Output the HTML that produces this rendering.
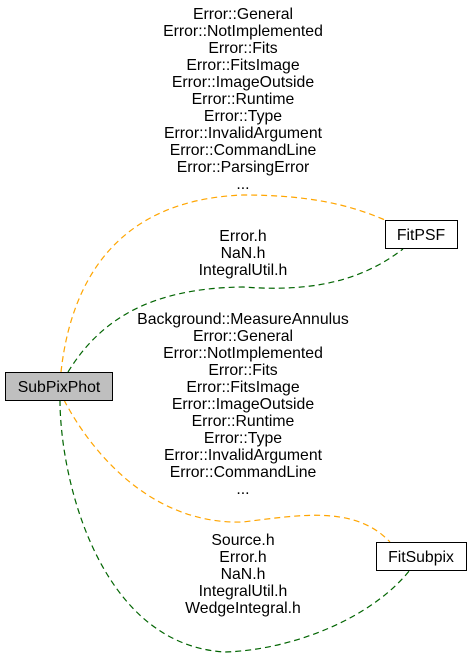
<!DOCTYPE html>
<html><head><style>
body{margin:0;background:#fff;width:472px;height:659px;overflow:hidden}
svg text{font-family:"Liberation Sans",Arial,sans-serif;font-size:15.8px;fill:#000;text-anchor:middle}
</style></head><body>
<svg width="472" height="659" viewBox="0 0 472 659">
<g fill="none" stroke-width="1.2" stroke-dasharray="6,4">
<path d="M61,372 C70,290 110,200 243,195 C310,195 350,205 385,220" stroke="orange"/>
<path d="M68,372 C100,320 150,288 243,287 C310,292 360,282 403,249" stroke="darkgreen"/>
<path d="M64,400 C90,450 150,525 243,522 C300,515 355,505 390,542" stroke="orange"/>
<path d="M60,400 C60,480 100,645 225,652 C290,650 370,620 410,570" stroke="darkgreen"/>
</g>
<rect x="5.5" y="372.5" width="107" height="28" fill="#bfbfbf" stroke="#000"/>
<text x="59" y="392">SubPixPhot</text>
<rect x="385.5" y="220.5" width="72" height="28" fill="#fff" stroke="#000"/>
<text x="421" y="240">FitPSF</text>
<rect x="376.5" y="542.5" width="90" height="28" fill="#fff" stroke="#000"/>
<text x="421" y="562">FitSubpix</text>
<g>
<text x="243" y="19">Error::General</text>
<text x="243" y="36">Error::NotImplemented</text>
<text x="243" y="53">Error::Fits</text>
<text x="243" y="70">Error::FitsImage</text>
<text x="243" y="87">Error::ImageOutside</text>
<text x="243" y="104">Error::Runtime</text>
<text x="243" y="121">Error::Type</text>
<text x="243" y="138">Error::InvalidArgument</text>
<text x="243" y="155">Error::CommandLine</text>
<text x="243" y="172">Error::ParsingError</text>
<text x="243" y="189">...</text>
<text x="243" y="241">Error.h</text>
<text x="243" y="258">NaN.h</text>
<text x="243" y="275">IntegralUtil.h</text>
<text x="243" y="324">Background::MeasureAnnulus</text>
<text x="243" y="341">Error::General</text>
<text x="243" y="358">Error::NotImplemented</text>
<text x="243" y="375">Error::Fits</text>
<text x="243" y="392">Error::FitsImage</text>
<text x="243" y="409">Error::ImageOutside</text>
<text x="243" y="426">Error::Runtime</text>
<text x="243" y="443">Error::Type</text>
<text x="243" y="460">Error::InvalidArgument</text>
<text x="243" y="477">Error::CommandLine</text>
<text x="243" y="494">...</text>
<text x="243" y="545">Source.h</text>
<text x="243" y="562">Error.h</text>
<text x="243" y="579">NaN.h</text>
<text x="243" y="596">IntegralUtil.h</text>
<text x="243" y="613">WedgeIntegral.h</text>
</g>
</svg>
</body></html>
